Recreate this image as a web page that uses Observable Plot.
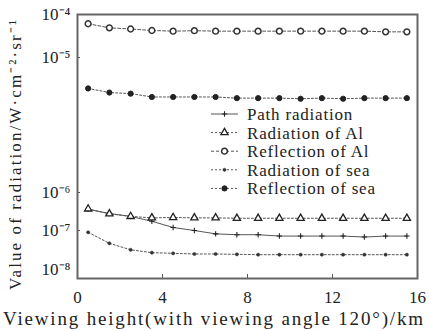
<!DOCTYPE html>
<html><head><meta charset="utf-8">
<script src="https://cdn.jsdelivr.net/npm/d3@7"></script>
<script src="https://cdn.jsdelivr.net/npm/@observablehq/plot@0.6"></script>
<style>body{margin:0;background:#fff}</style>
</head><body><div id="chart"></div>
<script>
const heights = [0.5,1.5,2.5,3.5,4.5,5.5,6.5,7.5,8.5,9.5,10.5,11.5,12.5,13.5,14.5,15.5];
const pathRadiation = [3.6e-7,2.8e-7,2.35e-7,1.75e-7,1.2e-7,1.0e-7,8.2e-8,7.8e-8,7.8e-8,7.2e-8,7.2e-8,7.2e-8,7.2e-8,6.8e-8,7.2e-8,7.2e-8];
const radiationAl = [3.7e-7,2.75e-7,2.35e-7,2.15e-7,2.2e-7,2.15e-7,2.15e-7,2.1e-7,2.1e-7,2.1e-7,2.1e-7,2.1e-7,2.1e-7,2.1e-7,2.1e-7,2.1e-7];
const reflectionAl = [6.1e-5,4.9e-5,4.6e-5,4.25e-5,4.1e-5,4.2e-5,4.1e-5,4.1e-5,4.1e-5,4.1e-5,4.1e-5,4.1e-5,4.1e-5,4.1e-5,3.95e-5,3.95e-5];
const radiationSea = [9.0e-8,4.7e-8,3.2e-8,2.7e-8,2.6e-8,2.5e-8,2.5e-8,2.45e-8,2.4e-8,2.4e-8,2.4e-8,2.4e-8,2.4e-8,2.4e-8,2.4e-8,2.4e-8];
const reflectionSea = [5.9e-6,5.5e-6,5.4e-6,5.1e-6,5.1e-6,5.1e-6,5.1e-6,5.0e-6,5.0e-6,5.0e-6,4.95e-6,5.0e-6,4.95e-6,5.0e-6,5.0e-6,5.0e-6];
const seriesNames = ["Path radiation","Radiation of Al","Reflection of Al","Radiation of sea","Reflection of sea"];
const xTicks = [0,4,8,12,16];
const yTicks = [1e-8,1e-7,1e-6,1e-5,1e-4];
const yTickLabels = ["10\u207B\u2078","10\u207B\u2077","10\u207B\u2076","10\u207B\u2075","10\u207B\u2074"];
const xTitle = "Viewing height(with viewing angle 120\u00B0)/km";
const yTitle = "Value of radiation/W\u00B7cm\u207B\u00B2\u00B7sr\u207B\u00B9";

const seriesValues = [pathRadiation, radiationAl, reflectionAl, radiationSea, reflectionSea];
const styles = [
  {dash: null, stroke: "#555", symbol: "plus", r: 1.9, fill: "none", mstroke: "#222", sw: 1.1},
  {dash: "2,2", stroke: "#555", symbol: "triangle", r: 2.7, fill: "#fff", mstroke: "#222", sw: 1.3},
  {dash: "3,2", stroke: "#555", symbol: "circle", r: 2.9, fill: "#fff", mstroke: "#333", sw: 1.5},
  {dash: "2,2", stroke: "#555", symbol: "circle", r: 1.6, fill: "#333", mstroke: "#333", sw: 0.5},
  {dash: "2,2", stroke: "#555", symbol: "circle", r: 2.6, fill: "#222", mstroke: "#222", sw: 1}
];
const tables = seriesValues.map((vals, s) => heights.map((h, i) => ({h, v: vals[i], s: seriesNames[s]})));

const marks = [];
tables.forEach((t, s) => {
  const st = styles[s];
  marks.push(Plot.line(t, {x: "h", y: "v", stroke: st.stroke, strokeWidth: 1, strokeDasharray: st.dash}));
});
tables.forEach((t, s) => {
  const st = styles[s];
  marks.push(Plot.dot(t, {x: "h", y: "v", symbol: () => st.symbol, r: st.r, fill: st.fill, stroke: st.mstroke, strokeWidth: st.sw}));
});

const font = "'Liberation Serif','Times New Roman',serif";
const chart = Plot.plot({
  width: 429, height: 331,
  marginLeft: 77, marginRight: 12, marginTop: 14, marginBottom: 53,
  style: {fontFamily: font, fontSize: "17px", color: "#222", background: "#fff"},
  x: {domain: [0, 16]},
  y: {type: "log", domain: [5.8e-9, 1e-8, 1e-7, 1e-6, 1e-5, 1e-4], range: [278, 269, 230, 192, 57, 14]},
  symbol: {type: "identity"},
  marks: [
    ...marks,
    Plot.axisX({ticks: [4, 8, 12], tickSize: -4, tickFormat: () => "", label: null, stroke: "#555"}),
    Plot.axisX({ticks: xTicks, tickSize: 0, tickPadding: 12, tickFormat: d => String(d), label: null, fill: "#222"}),
    Plot.axisY({ticks: [1e-7, 1e-6, 1e-5], tickSize: -3, tickFormat: () => "", label: null, stroke: "#555"}),
    Plot.axisY({ticks: yTicks, tickSize: 0, tickPadding: 7, tickFormat: d => yTickLabels[yTicks.indexOf(d)], label: null, fill: "#222"}),
    Plot.frame({stroke: "#666", strokeWidth: 2})
  ]
});
document.getElementById("chart").appendChild(chart);

const svg = d3.select(chart);
// axis titles
svg.append("text").attr("x", 3).attr("y", 318).attr("dy", "0.35em")
  .attr("text-anchor", "start").attr("font-family", font).attr("font-size", 19).attr("fill", "#222")
  .attr("textLength", 420).attr("lengthAdjust", "spacing").text(xTitle);
svg.append("text").attr("transform", "translate(15,155) rotate(-90)").attr("x", -135).attr("y", 0).attr("dy", "0.35em")
  .attr("text-anchor", "start").attr("font-family", font).attr("font-size", 17).attr("fill", "#222")
  .attr("textLength", 270).attr("lengthAdjust", "spacing").text(yTitle);

// legend
const lg = svg.append("g").attr("font-family", font).attr("font-size", 17).attr("text-anchor", "start");
seriesNames.forEach((name, i) => {
  const st = styles[i];
  const y = 114 + i * 18.6;
  const ln = lg.append("line").attr("x1", 211).attr("x2", 238).attr("y1", y).attr("y2", y)
    .attr("stroke", st.stroke).attr("stroke-width", 1);
  if (st.dash) ln.attr("stroke-dasharray", st.dash);
  const sym = {circle: d3.symbolCircle, triangle: d3.symbolTriangle, plus: d3.symbolPlus}[st.symbol];
  lg.append("path").attr("d", d3.symbol(sym, Math.PI * st.r * st.r)())
    .attr("transform", `translate(224.5,${y})`)
    .attr("fill", st.fill).attr("stroke", st.mstroke).attr("stroke-width", st.sw);
  lg.append("text").attr("x", 247).attr("y", y).attr("dy", "0.35em").attr("fill", "#222")
    .attr("text-anchor", "start").style("letter-spacing", "0.8px").text(name);
});
</script>
</body></html>
